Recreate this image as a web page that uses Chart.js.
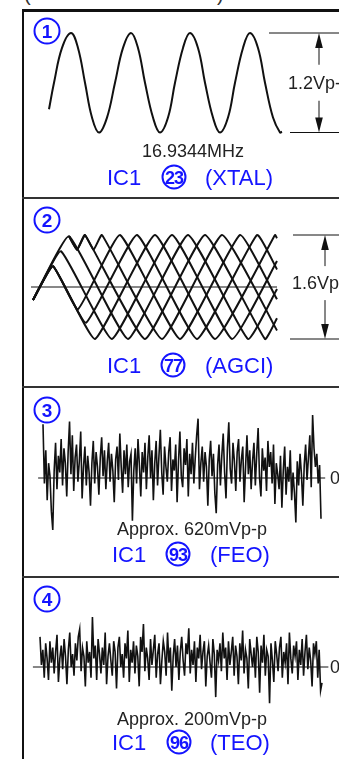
<!DOCTYPE html>
<html>
<head>
<meta charset="utf-8">
<script src="https://cdn.jsdelivr.net/npm/chart.js@4.4.1/dist/chart.umd.min.js"></script>
<style>
  html, body { margin: 0; padding: 0; background: #fff; }
  body { width: 339px; height: 759px; position: relative; overflow: hidden; font-family: "Liberation Sans", Arial, sans-serif; }
  canvas { position: absolute; left: 0; }
  .rule { position: absolute; background: #111; }
  .txt { position: absolute; white-space: nowrap; line-height: 1; color: #222; font-size: 18px; transform: translateY(-50%); }
  .mid { transform: translate(-50%, -50%); }
  .blue { color: #1414ff; font-size: 22px; }
  .num { position: absolute; box-sizing: border-box; border: 2.5px solid #1414ff; border-radius: 50%; color: #1414ff;
         display: flex; align-items: center; justify-content: center; font-weight: bold; line-height: 1; transform: translate(-50%, -50%); }
  .pin { width: 25px; height: 25px; border-width: 2.2px; font-size: 18px; letter-spacing: -1px; font-family: "Liberation Sans Narrow", "Liberation Sans", sans-serif; }
  .idx { width: 27px; height: 27px; font-size: 19px; }
</style>
</head>
<body>
<!-- caption line cut off at the top edge -->
<div class="txt" style="left:24px;top:-6px;font-size:20px;color:#333">(</div>
<div class="txt" style="left:217px;top:-6px;font-size:20px;color:#333">)</div>

<!-- frame -->
<div class="rule" style="left:22px;top:9px;width:317px;height:3px"></div>
<div class="rule" style="left:22px;top:9px;width:2px;height:750px"></div>
<div class="rule" style="left:22px;top:197px;width:317px;height:2px;background:#333"></div>
<div class="rule" style="left:22px;top:386px;width:317px;height:2px;background:#333"></div>
<div class="rule" style="left:22px;top:576px;width:317px;height:2px;background:#333"></div>

<canvas id="c1" width="339" height="186" style="top:12px"></canvas>
<canvas id="c2" width="339" height="188" style="top:199px"></canvas>
<canvas id="c3" width="339" height="188" style="top:388px"></canvas>
<canvas id="c4" width="339" height="181" style="top:578px"></canvas>

<!-- panel 1 -->
<div class="num idx" style="left:47px;top:31px">1</div>
<div class="txt mid" style="left:193px;top:151px">16.9344MHz</div>
<div class="txt" style="left:288px;top:83px">1.2Vp-p</div>
<div class="txt blue" style="left:107px;top:178px">IC1</div>
<div class="num pin" style="left:174px;top:177px">23</div>
<div class="txt blue" style="left:205px;top:178px">(XTAL)</div>

<!-- panel 2 -->
<div class="num idx" style="left:47px;top:220px">2</div>
<div class="txt" style="left:292px;top:283px">1.6Vp-p</div>
<div class="txt blue" style="left:107px;top:366px">IC1</div>
<div class="num pin" style="left:173px;top:365px">77</div>
<div class="txt blue" style="left:205px;top:366px">(AGCI)</div>

<!-- panel 3 -->
<div class="num idx" style="left:47px;top:410px">3</div>
<div class="txt" style="left:330px;top:478px">0</div>
<div class="txt mid" style="left:192px;top:529px">Approx. 620mVp-p</div>
<div class="txt blue" style="left:112px;top:555px">IC1</div>
<div class="num pin" style="left:178px;top:554px">93</div>
<div class="txt blue" style="left:210px;top:555px">(FEO)</div>

<!-- panel 4 -->
<div class="num idx" style="left:47px;top:599px">4</div>
<div class="txt" style="left:330px;top:667px">0</div>
<div class="txt mid" style="left:192px;top:719px">Approx. 200mVp-p</div>
<div class="txt blue" style="left:112px;top:743px">IC1</div>
<div class="num pin" style="left:179px;top:742px">96</div>
<div class="txt blue" style="left:210px;top:743px">(TEO)</div>

<script>
// 1: XTAL, 16.9344MHz (time ns, volts)
const xtalTime = [0, 5, 13, 22, 29, 36, 43, 50, 58, 66, 74, 82, 89, 96, 104, 111, 119, 126, 134, 141, 149, 156, 164, 171, 179, 186, 194, 201, 209, 216, 224, 231, 233];
const xtalVolts = [-0.32, 0, 0.42, 0.6, 0.42, 0, -0.42, -0.6, -0.42, 0, 0.42, 0.6, 0.42, 0, -0.42, -0.6, -0.42, 0, 0.42, 0.6, 0.42, 0, -0.42, -0.6, -0.42, 0, 0.42, 0.6, 0.42, 0, -0.42, -0.6, -0.59];

// 2: AGCI eye pattern, one [time ns, volts] list per sweep
const eyeA = [[0, -0.2], [20, 0.32], [45, -0.34], [87, 0.8], [147, -0.8], [207, 0.8], [244, -0.19]];
const eyeB = [[0, -0.2], [20, 0.32], [53, -0.55], [104, 0.8], [164, -0.8], [224, 0.8], [244, 0.27]];
const eyeC = [[0, -0.2], [20, 0.32], [62, -0.8], [122, 0.8], [182, -0.8], [242, 0.8], [244, 0.75]];
const eyeD = [[0, -0.2], [28, 0.55], [79, -0.8], [139, 0.8], [199, -0.8], [244, 0.4]];
const eyeE = [[0, -0.2], [36, 0.78], [95, -0.8], [155, 0.8], [215, -0.8], [244, -0.03]];
const eyeF = [[36, 0.78], [44, 0.57], [52, 0.8], [112, -0.8], [172, 0.8], [232, -0.8], [244, -0.48]];
const eyeG = [[36, 0.78], [44, 0.57], [52, 0.8], [60.5, 0.57], [69, 0.8], [129, -0.8], [189, 0.8], [244, -0.67]];

// 3: FEO, mV per sample
const feoNoise = [
  290, -30, 150, -120, 80, 10, -180, -280, 40, 190,
  -60, 120, 30, 210, -40, 160, 80, -100, 140, 305,
  20, 230, -70, 110, 180, -20, 90, 250, -110, 60,
  170, -40, 120, 30, -150, 80, 200, -30, 140, 60,
  -90, 110, 220, 10, 150, -60, 90, 190, -20, 130,
  40, -130, 100, 170, -10, 240, 60, -80, 150, 20,
  180, -50, 90, 130, -230, 40, 160, -30, 210, 70,
  -100, 140, 30, 190, -60, 110, 230, 0, 150, -120,
  80, 200, -40, 120, 260, 30, -90, 170, 60, -20,
  140, 220, -70, 100, 40, 180, -130, 90, 250, 10,
  -50, 160, 70, 210, -100, 130, 20, 190, -30, 110,
  230, 320, -60, 80, 170, -20, 140, 60, -150, 100,
  200, 10, 130, -80, -190, 70, 180, -40, 120, 240,
  30, -110, 160, 300, 50, -30, 190, 90, -70, 140,
  210, -20, 100, 170, -130, 60, 230, 20, 150, -60,
  90, 190, -40, 130, 270, 0, -100, 160, 40, 110,
  -70, 200, 60, 140, -30, 180, -140, 80, 20, -60,
  120, -160, 40, 170, -90, 60, -20, 150, -120, 30,
  -80, -240, 90, -40, 130, 20, -150, 70, 180, -10,
  110, 230, -50, 340, 160, 60, 130, -30, 70, -220
];

// 4: TEO, mV per sample
const teoNoise = [
  70, 5, 40, -25, 55, 20, -30, 60, 10, 45,
  -15, 35, 75, -35, 20, 50, -5, 65, 25, -40,
  40, 80, 0, 30, -20, 55, 15, 70, 88, -10,
  45, 25, -45, 60, 10, 35, -25, 116, 20, 50,
  -30, 65, 30, -15, 45, 5, 80, -40, 25, 55,
  15, -20, 60, 35, -50, 45, 70, 0, 30, -25,
  55, 20, 85, -35, 40, 10, 60, -15, 50, 25,
  -45, 70, 35, 100, -10, 45, 20, -30, 65, 5,
  40, 75, -25, 30, 55, -40, 15, 60, 35, -20,
  80, 10, 45, -55, 25, 65, 0, 50, -30, 35,
  70, 15, -20, 55, 30, 90, -15, 40, 5, 60,
  -35, 45, 20, 75, -5, 35, 60, -45, 25, 50,
  10, -25, 65, 30, -70, 40, 15, 55, -10, 80,
  20, 45, -30, 60, 5, 35, 70, -20, 50, 25,
  -40, 55, 15, 85, -15, 40, 20, -50, 65, 30,
  0, 45, -25, 70, 35, -60, 50, 10, 75, -20,
  40, 25, -84, 55, 15, -35, 60, 30, -10, 45,
  70, -25, 35, 10, 55, -40, 80, 20, -15, 50,
  25, 60, -30, 40, 5, 65, -20, 35, 75, -5,
  45, 15, -45, 55, 30, 60, -25, 40, -55, -37
];

const INK = '#111';

// scale range so that value v1 lands on pixel p1 and v2 on p2
function xRange(v1, p1, v2, p2, size) {
    const k = (p2 - p1) / (v2 - v1);
    const min = v1 - p1 / k;
    return { min, max: min + size / k };
}
function yRange(v1, p1, v2, p2, size) {
    const k = (p2 - p1) / (v1 - v2);
    const max = v1 + p1 / k;
    return { min: max - size / k, max };
}

// dimension arrow on the right side (levels in data units)
const dimPlugin = {
    id: 'dim',
    afterDatasetsDraw(chart, args, opts) {
        if (!opts || opts.top === undefined) return;
        const { ctx, scales: { x, y }, width } = chart;
        const yt = y.getPixelForValue(opts.top);
        const yb = y.getPixelForValue(opts.bottom);
        const yl = y.getPixelForValue(opts.label);
        const xa = x.getPixelForValue(opts.at);
        ctx.save();
        ctx.strokeStyle = INK;
        ctx.fillStyle = INK;
        ctx.lineWidth = 1;
        ctx.beginPath();
        ctx.moveTo(x.getPixelForValue(opts.topFrom), yt);
        ctx.lineTo(width, yt);
        ctx.moveTo(x.getPixelForValue(opts.bottomFrom), yb);
        ctx.lineTo(width, yb);
        ctx.moveTo(xa, yt + 10);
        ctx.lineTo(xa, yl - opts.gap);
        ctx.moveTo(xa, yl + opts.gap);
        ctx.lineTo(xa, yb - 10);
        ctx.stroke();
        [[yt, 1], [yb, -1]].forEach(([tip, dir]) => {
            ctx.beginPath();
            ctx.moveTo(xa, tip);
            ctx.lineTo(xa - 3.8, tip + dir * 15);
            ctx.lineTo(xa + 3.8, tip + dir * 15);
            ctx.closePath();
            ctx.fill();
        });
        ctx.restore();
    }
};

function trace(data, width, tension) {
    return { data, borderColor: INK, borderWidth: width, tension, pointRadius: 0, fill: false, clip: false };
}

function makeChart(id, datasets, xr, yr, dim) {
    const el = document.getElementById(id);
    return new Chart(el, {
        type: 'line',
        data: { datasets },
        options: {
            responsive: false,
            animation: false,
            events: [],
            layout: { padding: 0 },
            plugins: { legend: { display: false }, tooltip: { enabled: false }, dim: dim || {} },
            scales: {
                x: { type: 'linear', display: false, min: xr.min, max: xr.max },
                y: { type: 'linear', display: false, min: yr.min, max: yr.max }
            }
        },
        plugins: [dimPlugin]
    });
}

const toXY = pairs => pairs.map(([x, y]) => ({ x, y }));

// 1
makeChart('c1',
    [trace(xtalTime.map((t, i) => ({ x: t, y: xtalVolts[i] })), 2, 0.4)],
    xRange(0, 49, 233, 282, 339),
    yRange(0.6, 33 - 12, -0.6, 132.5 - 12, 186),
    { top: 0.6, bottom: -0.6, topFrom: 220, bottomFrom: 241, at: 270, label: 0, gap: 18 });

// 2
const eyeSweeps = [eyeA, eyeB, eyeC, eyeD, eyeE, eyeF, eyeG];
makeChart('c2',
    [trace([{ x: -2, y: 0 }, { x: 244, y: 0 }], 1, 0)]
        .concat(eyeSweeps.map(s => trace(toXY(s), 2, 0.12))),
    xRange(0, 33, 244, 277, 339),
    yRange(0.8, 235 - 199, -0.8, 339 - 199, 188),
    { top: 0.8, bottom: -0.8, topFrom: 260, bottomFrom: 257, at: 292, label: 0.06, gap: 17 });

// 3
makeChart('c3',
    [trace([{ x: -3.5, y: 0 }, { x: 202, y: 0 }], 1.2, 0),
     trace(feoNoise.map((v, i) => ({ x: i, y: v })), 1.6, 0)],
    xRange(0, 43, 199, 321, 339),
    yRange(0, 478 - 388, 620, 363 - 388, 188));

// 4
makeChart('c4',
    [trace([{ x: -5, y: 0 }, { x: 203.5, y: 0 }], 1.2, 0),
     trace(teoNoise.map((v, i) => ({ x: i, y: v })), 1.6, 0)],
    xRange(0, 40, 199, 322, 339),
    yRange(0, 667 - 578, 200, 581 - 578, 181));
</script>
</body>
</html>
